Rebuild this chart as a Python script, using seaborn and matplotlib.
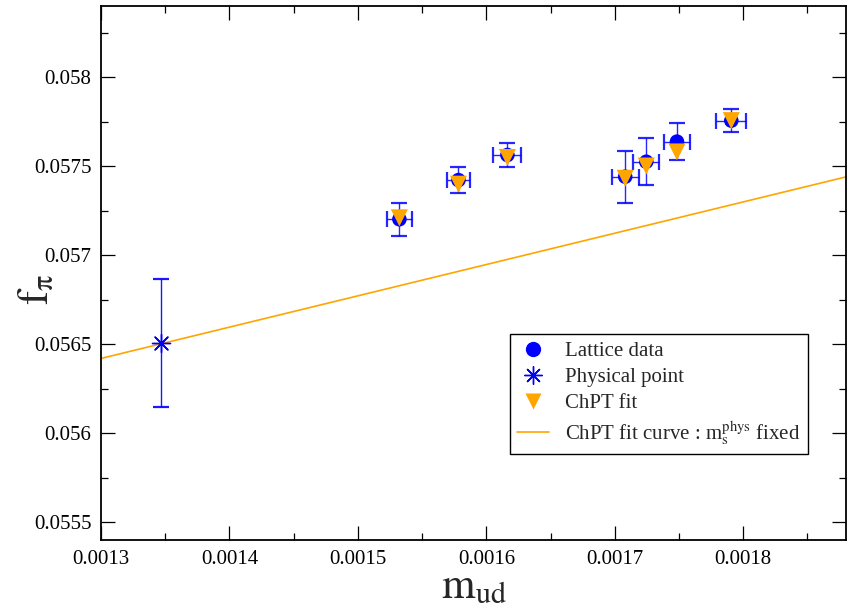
import matplotlib
matplotlib.use("Agg")
import numpy as np
import pandas as pd
import seaborn as sns
import matplotlib.pyplot as plt
from matplotlib.ticker import MultipleLocator, FuncFormatter
from matplotlib.lines import Line2D

# ---- data ----
m_ud = [0.0015323, 0.0015783, 0.0016164, 0.0017081, 0.0017245, 0.0017484, 0.0017907]
m_ud_err = [0.0000097, 0.0000091, 0.0000109, 0.0000104, 0.0000101, 0.0000104, 0.0000117]
f_pi = [0.057202, 0.057422, 0.057563, 0.057441, 0.057525, 0.057638, 0.057756]
f_pi_err = [0.0000916, 0.0000747, 0.0000685, 0.000145, 0.000131, 0.000103, 0.0000635]
f_pi_fit = [0.05721, 0.057399, 0.057549, 0.057432, 0.057501, 0.05758, 0.057756]

phys_m_ud = [0.001347]
phys_f_pi = [0.056505]
phys_f_pi_err = [0.00036]

curve_m_ud = [0.0013, 0.00188]
curve_f_pi = [0.05642, 0.05744]

legend_labels = ["Lattice data", "Physical point", "ChPT fit",
                 r"ChPT fit curve : m$_\mathrm{s}^\mathrm{phys}$ fixed"]

sns.set_theme(style="ticks")
plt.rcParams["font.family"] = ["Liberation Serif", "DejaVu Serif"]
plt.rcParams["mathtext.fontset"] = "stix"

BLUE = "#0000ff"
ORANGE = "#ffa500"

fig = plt.figure(figsize=(8.56, 6.11), dpi=100)
ax = fig.add_axes([101 / 856, 1 - 540 / 611, 745 / 856, 534 / 611])

df = pd.DataFrame({"m_ud": m_ud, "f_pi": f_pi, "f_fit": f_pi_fit})
dphys = pd.DataFrame({"m_ud": phys_m_ud, "f_pi": phys_f_pi})
dcurve = pd.DataFrame({"m_ud": curve_m_ud, "f_pi": curve_f_pi})

# fit curve
sns.lineplot(data=dcurve, x="m_ud", y="f_pi", color=ORANGE, lw=1.2, ax=ax, zorder=1)

# error bars
ax.errorbar(m_ud, f_pi, xerr=m_ud_err, yerr=f_pi_err, fmt="none", ecolor=BLUE,
            elinewidth=1.0, capsize=5.5, capthick=1.6, zorder=2, alpha=0.85)
ax.errorbar(phys_m_ud, phys_f_pi, yerr=phys_f_pi_err, fmt="none", ecolor=BLUE,
            elinewidth=1.0, capsize=5.5, capthick=1.6, zorder=2, alpha=0.9)

# markers
sns.scatterplot(data=df, x="m_ud", y="f_pi", marker="o", s=110, color=BLUE,
                edgecolor="none", ax=ax, zorder=3)
sns.scatterplot(data=df, x="m_ud", y="f_fit", marker="v", s=150, color=ORANGE,
                edgecolor="none", ax=ax, zorder=4)
sns.scatterplot(data=dphys, x="m_ud", y="f_pi", marker=(8, 2, 0), s=170,
                color=BLUE, edgecolor=BLUE, linewidth=1.0, ax=ax, zorder=4)

ax.set_xlim(0.0013, 0.00188)
ax.set_ylim(0.0554, 0.0584)

ax.xaxis.set_major_locator(MultipleLocator(0.0001))
ax.xaxis.set_minor_locator(MultipleLocator(0.00005))
ax.yaxis.set_major_locator(MultipleLocator(0.0005))
ax.yaxis.set_minor_locator(MultipleLocator(0.00025))
fmt = FuncFormatter(lambda v, p: "%g" % round(v, 6))
ax.xaxis.set_major_formatter(fmt)
ax.yaxis.set_major_formatter(fmt)

ax.tick_params(which="both", direction="in", top=True, right=True,
               colors="black", labelsize=15, width=0.9)
ax.tick_params(which="major", length=10, pad=7)
ax.tick_params(which="minor", length=5)
for s in ax.spines.values():
    s.set_visible(True)
    s.set_color("black")
    s.set_linewidth(1.3)

ax.set_xlabel(r"$\mathrm{m}_{\mathrm{ud}}$", fontsize=31, labelpad=0)
ax.set_ylabel("$\\mathrm{f}_{\\mathrm{\u03c0}}$", fontsize=31)
ax.yaxis.set_label_coords(-0.058, 0.47)

handles = [
    Line2D([], [], ls="none", marker="o", ms=11, color=BLUE, mec="none"),
    Line2D([], [], ls="none", marker=(8, 2, 0), ms=13, color=BLUE, mew=1.0),
    Line2D([], [], ls="none", marker="v", ms=12, color=ORANGE, mec="none"),
    Line2D([], [], color=ORANGE, lw=1.2),
]
leg = ax.legend(handles, legend_labels, loc="lower left",
                bbox_to_anchor=(0.549, 0.161), fontsize=15, frameon=True,
                fancybox=False, edgecolor="black", framealpha=1,
                borderpad=0.35, labelspacing=0.3, handlelength=1.5,
                handletextpad=0.8, borderaxespad=0)
leg.get_frame().set_linewidth(1.0)

fig.savefig("out.png", dpi=100)
